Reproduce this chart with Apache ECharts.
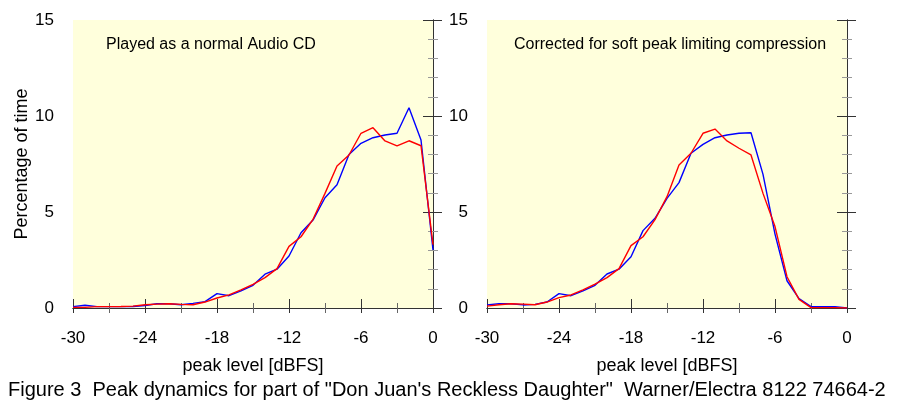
<!DOCTYPE html>
<html><head><meta charset="utf-8">
<script src="https://cdn.jsdelivr.net/npm/echarts@6/dist/echarts.min.js"></script>
<style>html,body{margin:0;padding:0;background:#fff}#c{width:898px;height:417px}</style>
</head><body><div id="c"></div>
<script>
var levels = [-30,-29,-28,-27,-26,-25,-24,-23,-22,-21,-20,-19,-18,-17,-16,-15,-14,-13,-12,-11,-10,-9,-8,-7,-6,-5,-4,-3,-2,-1,0];
var leftBlue = [0.07,0.14,0.07,0.07,0.07,0.08,0.13,0.22,0.22,0.17,0.24,0.33,0.75,0.64,0.89,1.18,1.76,2.02,2.71,3.92,4.58,5.74,6.42,8.0,8.58,8.87,9.01,9.10,10.43,8.75,3.02];
var leftRed = [0.03,0.03,0.07,0.07,0.08,0.1,0.17,0.2,0.22,0.19,0.17,0.31,0.52,0.68,0.94,1.23,1.58,2.05,3.21,3.71,4.62,5.97,7.40,7.97,9.10,9.39,8.70,8.44,8.71,8.45,3.3];
var rightBlue = [0.16,0.22,0.22,0.16,0.19,0.31,0.75,0.64,0.89,1.18,1.77,2.02,2.67,4.03,4.67,5.71,6.53,8.06,8.52,8.87,9.01,9.10,9.13,6.96,3.85,1.42,0.49,0.07,0.07,0.07,0];
var rightRed = [0.1,0.17,0.22,0.2,0.17,0.31,0.54,0.68,0.94,1.24,1.58,2.05,3.25,3.71,4.6,5.8,7.45,8.06,9.1,9.32,8.7,8.32,7.97,5.97,4.24,1.63,0.45,0.02,0.02,0.02,0];
var panelTitles = ["Played as a normal Audio CD","Corrected for soft peak limiting compression"];
var xName = "peak level [dBFS]";
var yName = "Percentage of time";
var figTitle = "Figure 3  Peak dynamics for part of \"Don Juan's Reckless Daughter\"  Warner/Electra 8122 74664-2";

var FONT = "'Liberation Sans', Arial, Helvetica, sans-serif";
function pairs(ys){ return levels.map(function(x,i){return [x, ys[i]];}); }
var chart = echarts.init(document.getElementById('c'), null, {renderer:'canvas'});
var grids = [
  {left:73, top:20, width:360, height:288, show:true, backgroundColor:'#ffffdc', borderWidth:0},
  {left:487, top:20, width:360, height:288, show:true, backgroundColor:'#ffffdc', borderWidth:0}
];
var axisLineStyle = {color:'#333', width:1};
var xAxes = [], yAxes = [];
for (var g=0; g<2; g++){
  xAxes.push({gridIndex:g, type:'value', min:-30, max:0, interval:6, position:'bottom',
    name:xName, nameLocation:'middle', nameGap:49, nameTextStyle:{fontFamily:FONT,fontSize:18,color:'#000'},
    axisLine:{lineStyle:axisLineStyle}, axisTick:{length:5, lineStyle:{color:'#333'}},
    minorTick:{show:true, splitNumber:2, length:5, lineStyle:{color:'#666'}},
    axisLabel:{fontFamily:FONT, fontSize:17, color:'#000', margin:22},
    splitLine:{show:false}});
  xAxes.push({gridIndex:g, type:'value', min:-30, max:0, interval:6, position:'top',
    axisLine:{lineStyle:axisLineStyle}, axisTick:{length:9, lineStyle:{color:'#333'}},
    minorTick:{show:true, splitNumber:2, length:5, lineStyle:{color:'#666'}},
    axisLabel:{show:false}, splitLine:{show:false}});
  yAxes.push({gridIndex:g, type:'value', min:0, max:15, interval:5, position:'left',
    name: g===0 ? yName : '', nameLocation:'middle', nameGap:42, nameTextStyle:{fontFamily:FONT,fontSize:18,color:'#000'},
    axisLine:{show:true, lineStyle:axisLineStyle}, axisTick:{show:true, length:10, lineStyle:{color:'#333'}},
    minorTick:{show:true, splitNumber:5, length:5, lineStyle:{color:'#999'}},
    axisLabel:{fontFamily:FONT, fontSize:17, color:'#000', margin:19},
    splitLine:{show:false}});
  yAxes.push({gridIndex:g, type:'value', min:0, max:15, interval:5, position:'right',
    axisLine:{show:true, lineStyle:axisLineStyle}, axisTick:{show:true, length:9, lineStyle:{color:'#333'}},
    minorTick:{show:true, splitNumber:5, length:5, lineStyle:{color:'#999'}},
    axisLabel:{show:false}, splitLine:{show:false}});
}
function line(xi, yi, ys, color){
  return {type:'line', xAxisIndex:xi, yAxisIndex:yi, data:pairs(ys), showSymbol:false, symbol:'none',
    lineStyle:{color:color, width:1.4}, itemStyle:{color:color}, animation:false, clip:true};
}
chart.setOption({
  animation:false,
  grid:grids, xAxis:xAxes, yAxis:yAxes,
  series:[
    line(0,0,leftBlue,'#0000ff'), line(0,0,leftRed,'#ff0000'),
    line(2,2,rightBlue,'#0000ff'), line(2,2,rightRed,'#ff0000')
  ],
  graphic:[
    {type:'text', left:106, top:37, style:{text:panelTitles[0], font:'16px '+FONT, fill:'#000'}},
    {type:'text', left:514, top:37, style:{text:panelTitles[1], font:'16px '+FONT, fill:'#000'}},
    {type:'text', left:8, top:380, style:{text:figTitle, font:'20px '+FONT, fill:'#000'}}
  ]
});
</script></body></html>
